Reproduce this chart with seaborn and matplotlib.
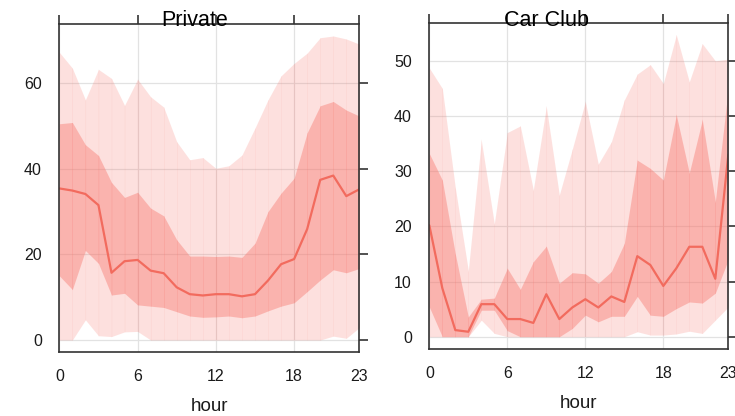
import matplotlib
matplotlib.use("Agg")
import matplotlib.pyplot as plt
import numpy as np
import pandas as pd
import seaborn as sns

# Hourly profiles: median with 25-75 and 5-95 percentile bands
hours = list(range(24))

private_median = [35.4, 34.9, 34.1, 31.5, 15.7, 18.4, 18.7, 16.2, 15.6, 12.3, 10.7, 10.4,
                  10.7, 10.7, 10.2, 10.7, 13.9, 17.7, 18.9, 25.9, 37.4, 38.4, 33.6, 35.2]
private_q25 = [15.0, 11.8, 20.9, 17.9, 10.5, 10.9, 8.2, 7.9, 7.6, 6.6, 5.6, 5.3,
               5.4, 5.6, 5.2, 5.6, 6.8, 7.9, 8.7, 11.3, 14.0, 16.4, 15.7, 16.7]
private_q75 = [50.5, 50.8, 45.6, 43.1, 36.8, 33.3, 34.5, 30.8, 29.0, 23.4, 19.6, 19.6,
               19.5, 19.6, 19.3, 22.6, 30.0, 34.3, 37.8, 48.4, 54.7, 55.7, 53.7, 52.3]
private_q05 = [0.0, 0.0, 4.7, 1.0, 0.8, 1.9, 2.0, 0.0, 0.0, 0.0, 0.0, 0.0,
               0.0, 0.0, 0.0, 0.0, 0.0, 0.0, 0.0, 0.0, 0.0, 0.9, 0.4, 2.9]
private_q95 = [67.2, 63.5, 56.1, 63.2, 61.1, 54.8, 60.9, 56.8, 54.4, 46.3, 42.1, 42.6,
               40.1, 40.7, 43.2, 49.5, 56.1, 61.7, 64.6, 67.0, 70.6, 71.0, 70.3, 69.1]

club_median = [20.2, 8.8, 1.2, 0.9, 5.9, 5.9, 3.2, 3.2, 2.5, 7.7, 3.2, 5.3,
               6.8, 5.3, 7.3, 6.3, 14.6, 13.0, 9.2, 12.4, 16.3, 16.3, 10.5, 33.0]
club_q25 = [5.4, 0.0, 0.0, 0.0, 4.8, 4.8, 1.1, 0.0, 0.0, 0.0, 0.0, 1.5,
            3.9, 2.7, 3.7, 3.7, 7.3, 3.9, 3.7, 5.1, 6.3, 6.1, 7.9, 14.0]
club_q75 = [33.2, 28.4, 15.0, 3.6, 6.8, 7.0, 12.4, 8.6, 13.6, 16.4, 9.7, 11.6,
            11.4, 9.7, 11.8, 16.9, 32.0, 30.5, 28.4, 40.2, 29.7, 39.3, 24.5, 45.0]
club_q05 = [0.0, 0.0, 0.0, 0.0, 3.0, 0.6, 0.0, 0.0, 0.0, 0.0, 0.0, 0.0,
            0.0, 0.0, 0.0, 0.0, 0.9, 0.3, 0.3, 0.5, 1.0, 0.6, 3.0, 5.4]
club_q95 = [48.7, 45.0, 27.0, 12.0, 35.6, 20.5, 37.0, 38.2, 26.6, 41.7, 25.7, 34.0,
            42.6, 31.3, 35.3, 42.9, 47.6, 49.3, 45.9, 54.7, 46.2, 53.1, 50.0, 50.3]

panel_titles = ["Private", "Car Club"]
hour_ticks = [0, 6, 12, 18, 23]

sns.set_style("white")
plt.rcParams["font.family"] = ["Liberation Sans", "DejaVu Sans"]

LINE = "#F26B5E"
BASE = "#F8766D"
SPINE = "#333333"


def band(ax, x, lo, hi, alpha, eps=0.012):
    """Fill a band hour by hour; the slight overlap leaves faint seams."""
    x = np.asarray(x, float)
    lo = np.asarray(lo, float)
    hi = np.asarray(hi, float)
    for i in range(len(x) - 1):
        dx = x[i + 1] - x[i]
        sl = (lo[i + 1] - lo[i]) / dx
        sh = (hi[i + 1] - hi[i]) / dx
        xs = [x[i] - eps, x[i + 1] + eps]
        ax.fill_between(xs, [lo[i] - sl * eps, lo[i + 1] + sl * eps],
                        [hi[i] - sh * eps, hi[i + 1] + sh * eps],
                        color=BASE, alpha=alpha, linewidth=0)


def panel(ax, med, q25, q75, q05, q95, ylim, yticks):
    band(ax, hours, q05, q95, 0.22)
    band(ax, hours, q25, q75, 0.42)
    df = pd.DataFrame({"hour": hours, "value": med})
    sns.lineplot(data=df, x="hour", y="value", ax=ax, color=LINE, linewidth=1.6)
    ax.set_xlim(0, 23)
    ax.set_ylim(*ylim)
    ax.set_xticks(hour_ticks)
    ax.set_yticks(yticks)
    ax.grid(True, color="#E2E2E2", linewidth=0.9)
    ax.set_axisbelow(True)
    for s in ax.spines.values():
        s.set_visible(True)
        s.set_color(SPINE)
        s.set_linewidth(1.2)
    ax.tick_params(direction="out", length=6.5, width=1.2, color=SPINE,
                   top=True, right=True, labeltop=False, labelright=False,
                   labelsize=11.5, labelcolor="#1a1a1a", pad=6)
    ax.set_xlabel("hour", fontsize=13.5, color="#1a1a1a", labelpad=10)
    ax.set_ylabel("")


fig = plt.figure(figsize=(7.35, 4.16), dpi=100)
ax1 = fig.add_axes([0.0807, 0.1546, 0.4082, 0.7877])
ax2 = fig.add_axes([0.5841, 0.1618, 0.4068, 0.7822])

panel(ax1, private_median, private_q25, private_q75, private_q05, private_q95,
      (-2.73, 73.8), [0, 20, 40, 60])
panel(ax2, club_median, club_q25, club_q75, club_q05, club_q95,
      (-2.17, 56.8), [0, 10, 20, 30, 40, 50])

fig.text(0.2653, 0.9375, panel_titles[0], ha="center", va="baseline",
         fontsize=15.5, color="black")
fig.text(0.744, 0.9383, panel_titles[1], ha="center", va="baseline",
         fontsize=15.5, color="black")

fig.savefig("out.png", dpi=100)
